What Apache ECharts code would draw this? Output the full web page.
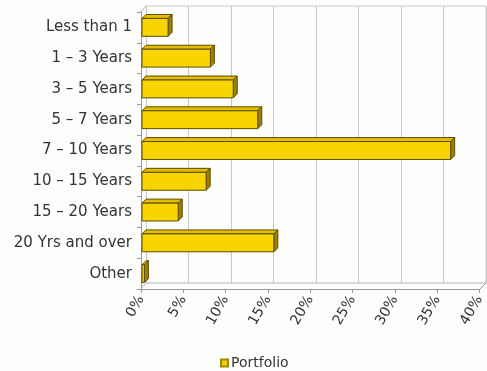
<!DOCTYPE html>
<html><head><meta charset="utf-8">
<script src="https://cdn.jsdelivr.net/npm/echarts@6/dist/echarts.min.js"></script>
<style>html,body{margin:0;padding:0;background:#fefefc}#c{width:487px;height:371px}</style>
</head><body><div id="c"></div>
<script>
const categories = ['Less than 1','1 – 3 Years','3 – 5 Years','5 – 7 Years','7 – 10 Years','10 – 15 Years','15 – 20 Years','20 Yrs and over','Other'];
const portfolio = [3.2, 8.2, 10.9, 13.8, 36.6, 7.7, 4.4, 15.7, 0.4];
const xTicks = [0,5,10,15,20,25,30,35,40];
const seriesName = 'Portfolio';

const D = 4;
const chart = echarts.init(document.getElementById('c'), null, {renderer:'canvas'});
const data = portfolio.map((v,i)=>[v, categories.length-1-i]);
const cats = categories.slice().reverse();

chart.setOption({
  backgroundColor:'#fefefc',
  animation:false,
  grid:[
    {left:146, top:6, width:340, height:277},
    {left:141, top:12, width:339, height:277}
  ],
  xAxis:[
    {gridIndex:0, type:'value', min:0, max:40, interval:5, axisLabel:{show:false}, axisLine:{show:false}, axisTick:{show:false},
     splitLine:{show:true, lineStyle:{color:'#c8c8c8', width:1}}},
    {gridIndex:1, type:'value', min:0, max:40, interval:5, splitLine:{show:false},
     axisLine:{show:true, lineStyle:{color:'#9a9a9a'}}, axisTick:{show:true, length:4, lineStyle:{color:'#9a9a9a'}},
     axisLabel:{rotate:60, fontSize:14, color:'#333', fontFamily:'DejaVu Sans', margin:8, formatter:v=>v+'%'}}
  ],
  yAxis:[
    {gridIndex:0, type:'category', data:cats, axisLabel:{show:false}, axisTick:{show:false}, axisLine:{show:true, lineStyle:{color:'#c8c8c8'}}},
    {gridIndex:1, type:'category', data:cats, axisLine:{show:true, lineStyle:{color:'#9a9a9a'}},
     axisTick:{show:true, length:4, lineStyle:{color:'#9a9a9a'}},
     axisLabel:{fontSize:15, color:'#333', fontFamily:'DejaVu Sans', margin:9}}
  ],
  graphic:[
    {type:'polyline', shape:{points:[[146,6],[486,6],[486,283]]}, style:{stroke:'#c8c8c8', fill:null, lineWidth:1}},
    {type:'polyline', shape:{points:[[480,289],[486,283]]}, style:{stroke:'#9a9a9a', fill:null, lineWidth:1}},
    {type:'polyline', shape:{points:[[141,12],[146,6]]}, style:{stroke:'#b0b0b0', fill:null, lineWidth:1}},
    {type:'polyline', shape:{points:[[141,289],[146,283],[486,283]]}, style:{stroke:'#b0b0b0', fill:null, lineWidth:1}}
  ],
  legend:{top:351, left:215, icon:'rect', itemWidth:7, itemHeight:7, itemGap:3,
    textStyle:{fontSize:14, color:'#333', fontFamily:'DejaVu Sans', padding:[0,0,0,-2]}, data:[seriesName]},
  series:[{
    name:seriesName, type:'custom', xAxisIndex:1, yAxisIndex:1,
    itemStyle:{color:'#f6d000', borderColor:'#a08a00', borderWidth:1},
    encode:{x:0, y:1},
    data:data,
    renderItem(params, api){
      const v = api.value(0), c = api.value(1);
      const p0 = api.coord([0, c]); const p1 = api.coord([v, c]);
      const bh = api.size([0,1])[1]*0.58;
      const x0 = p0[0]+1, x1 = p1[0];
      const y0 = p0[1]-bh/2, y1 = p0[1]+bh/2;
      const sk = '#5c4c00';
      return {type:'group', children:[
        {type:'polygon', shape:{points:[[x0,y0],[x1,y0],[x1+D,y0-D],[x0+D,y0-D]]}, style:{fill:'#e2bd00', stroke:sk, lineWidth:1}},
        {type:'polygon', shape:{points:[[x1,y0],[x1+D,y0-D],[x1+D,y1-D],[x1,y1]]}, style:{fill:'#9c8000', stroke:sk, lineWidth:1}},
        {type:'rect', shape:{x:x0, y:y0, width:Math.max(x1-x0,1), height:bh}, style:{fill:'#f8d400', stroke:sk, lineWidth:1}}
      ]};
    }
  }]
});
</script></body></html>
